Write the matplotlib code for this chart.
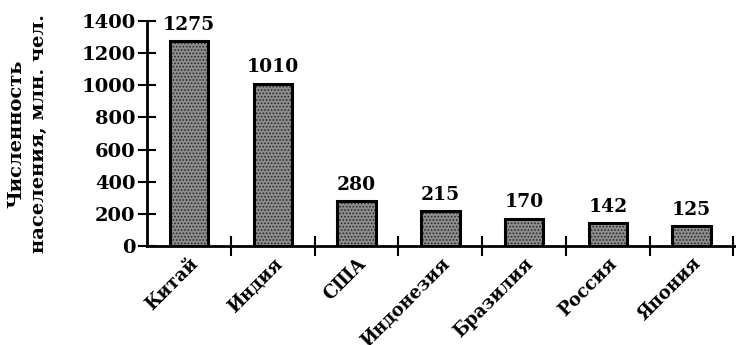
import numpy as np
import matplotlib
matplotlib.use('Agg')
import matplotlib.pyplot as plt

countries = ['Китай', 'Индия', 'США', 'Индонезия', 'Бразилия', 'Россия', 'Япония']
population = [1275, 1010, 280, 215, 170, 142, 125]
yticks = [0, 200, 400, 600, 800, 1000, 1200, 1400]

plt.rcParams['font.family'] = ['DejaVu Serif']
plt.rcParams['font.weight'] = 'bold'
plt.rcParams['hatch.linewidth'] = 0.8

fig = plt.figure(figsize=(7.36, 3.45), dpi=100)
ax = fig.add_axes([0.2, 0.287, 0.8, 0.652])

x = np.arange(len(countries))
# texture first, then the black outline on top
ax.bar(x, population, width=0.46, color='#8e8e8e', edgecolor='#2a2a2a',
       hatch='.....', linewidth=0)
ax.bar(x, population, width=0.46, color='none', edgecolor='black', linewidth=2.2)

for xi, v in zip(x, population):
    ax.text(xi, v + 45, str(v), ha='center', va='bottom', fontsize=13.5,
            fontweight='bold')

ax.set_xlim(-0.5, 6.53)
ax.set_ylim(0, 1400)
ax.set_yticks(yticks)
ax.set_yticklabels([str(t) for t in yticks], fontsize=14, fontweight='bold')

ax.set_xticks(x)
ax.set_xticklabels(countries, rotation=45, ha='right', va='top',
                   rotation_mode='anchor', fontsize=13, fontweight='bold')
ax.tick_params(axis='x', which='major', length=0, pad=6)
ax.set_xticks(np.arange(len(countries)) + 0.5, minor=True)
ax.tick_params(axis='x', which='minor', direction='inout', length=14, width=1.5)
ax.tick_params(axis='y', direction='inout', length=13, width=1.5, pad=2)

for s in ['top', 'right']:
    ax.spines[s].set_visible(False)
ax.spines['left'].set_linewidth(2)
ax.spines['bottom'].set_linewidth(2)

ax.set_ylabel('Численность\nнаселения, млн. чел.', fontsize=14,
              fontweight='bold', labelpad=24, linespacing=1.3)

fig.savefig('out.png', dpi=100)
